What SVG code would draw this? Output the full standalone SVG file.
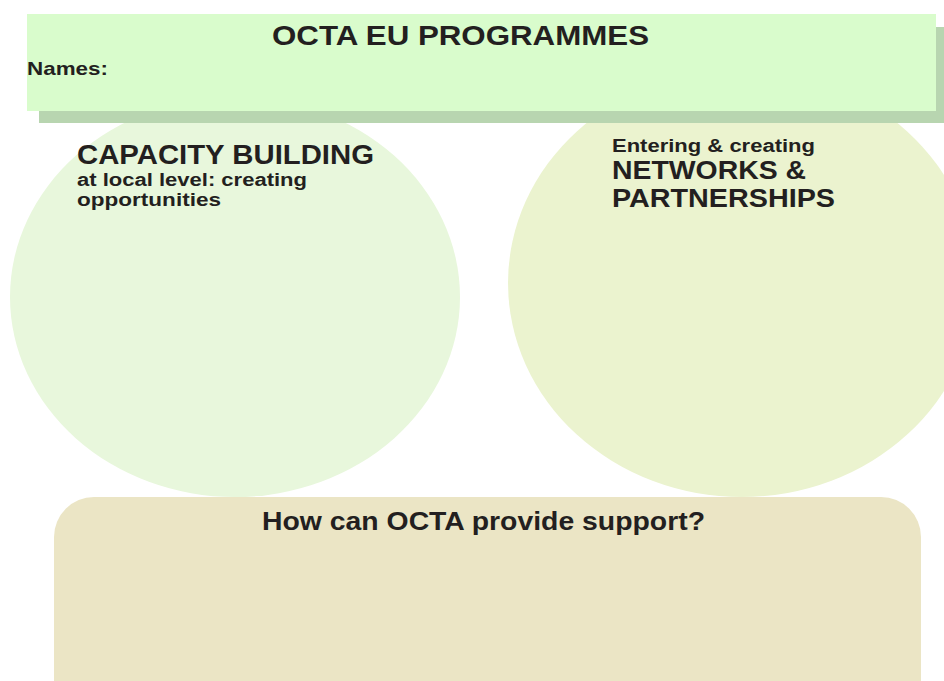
<svg xmlns="http://www.w3.org/2000/svg" width="944" height="681" viewBox="0 0 944 681">
<style>
text{font-family:"Liberation Sans","Noto Sans",sans-serif;font-weight:bold;fill:#231f20}
.t{font-size:27px}
.s{font-size:18px}
.n{font-size:25px}
</style>
<rect width="944" height="681" fill="#ffffff"/>
<g id="circle-capacity">
<ellipse cx="235" cy="297" rx="225" ry="200" fill="#e8f7dc"/>
<text class="t" x="77" y="164" textLength="297" lengthAdjust="spacingAndGlyphs">CAPACITY BUILDING</text>
<text class="s" x="77" y="186" textLength="230" lengthAdjust="spacingAndGlyphs">at local level: creating</text>
<text class="s" x="77" y="206" textLength="144" lengthAdjust="spacingAndGlyphs">opportunities</text>
</g>
<g id="circle-networks">
<ellipse cx="742" cy="283" rx="234" ry="214" fill="#ebf3cf"/>
<text class="s" x="612" y="152" textLength="203" lengthAdjust="spacingAndGlyphs">Entering &amp; creating</text>
<text class="n" x="612" y="179" textLength="194" lengthAdjust="spacingAndGlyphs">NETWORKS &amp;</text>
<text class="n" x="612" y="207" textLength="223" lengthAdjust="spacingAndGlyphs">PARTNERSHIPS</text>
</g>
<g id="header">
<rect x="39" y="27" width="905" height="96" fill="#b8d5b0"/>
<rect x="27" y="14" width="909" height="97" fill="#d9fccc"/>
<text x="272" y="45" font-size="28" textLength="377" lengthAdjust="spacingAndGlyphs">OCTA EU PROGRAMMES</text>
<text x="27" y="75" font-size="19" textLength="81" lengthAdjust="spacingAndGlyphs">Names:</text>
</g>
<g id="support">
<rect x="54" y="497" width="867" height="230" rx="40" fill="#ebe5c5"/>
<text x="262" y="530" font-size="25" textLength="443" lengthAdjust="spacingAndGlyphs">How can OCTA provide support?</text>
</g>
<g id="connectors"/>
</svg>
